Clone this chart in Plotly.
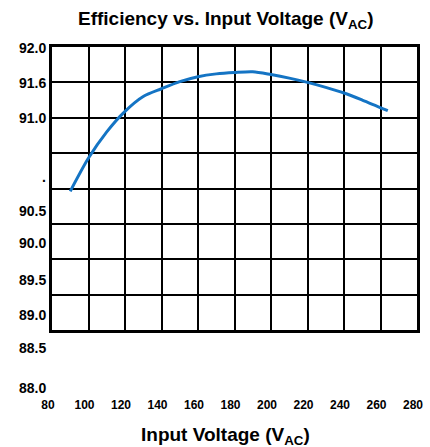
import plotly.graph_objects as go

# ---- data ----
voltage = [90, 100, 110, 120, 130, 140, 150, 160, 170, 180, 190, 200, 210, 220, 230, 240, 250, 264]
efficiency = [89.96, 90.43, 90.80, 91.09, 91.30, 91.41, 91.51, 91.58, 91.62, 91.64, 91.65, 91.61,
              91.56, 91.50, 91.43, 91.35, 91.25, 91.10]

x_tick_vals = [80, 100, 120, 140, 160, 180, 200, 220, 240, 260, 280]
x_tick_text = ["80", "100", "120", "140", "160", "180", "200", "220", "240", "260", "280"]

y_label_text = ["92.0", "91.6", "91.0", ".", "90.5", "90.0", "89.5", "89.0", "88.5", "88.0"]
# where each y label sits (in axis units; labels in the reference are not on the grid)
y_label_pos = [91.99, 91.49, 91.00, 90.16, 89.68, 89.23, 88.71, 88.21, 87.75, 87.18]

X_RANGE = [80, 280]
Y_RANGE = [88.0, 92.0]

FONT = "Arial, 'Liberation Sans', sans-serif"

fig = go.Figure()
fig.add_trace(go.Scatter(
    x=voltage, y=efficiency, mode="lines",
    line=dict(color="#1474C4", width=3, shape="spline", smoothing=0.8),
    showlegend=False, hoverinfo="x+y",
))

annotations = []
for txt, pos in zip(y_label_text, y_label_pos):
    frac = (pos - Y_RANGE[0]) / (Y_RANGE[1] - Y_RANGE[0])
    annotations.append(dict(
        text=f"<b>{txt}</b>", xref="paper", yref="paper", x=0, y=frac,
        xanchor="right", yanchor="middle", xshift=-4, showarrow=False,
        font=dict(family=FONT, size=14, color="black"),
    ))

# x-axis title (placed slightly left of the plot centre, as in the reference)
annotations.append(dict(
    text="<b>Input Voltage (V<sub>AC</sub>)</b>", xref="paper", yref="paper",
    x=0.474, y=-0.375, xanchor="center", yanchor="middle", showarrow=False,
    font=dict(family=FONT, size=19, color="black"),
))

fig.update_layout(
    width=430, height=447,
    margin=dict(l=52, r=13, t=47, b=117),
    paper_bgcolor="white", plot_bgcolor="white",
    title=dict(
        text="<b>Efficiency vs. Input Voltage (V<sub>AC</sub>)</b>",
        x=0.525, xref="container", xanchor="center",
        y=0.958, yref="container", yanchor="middle",
        font=dict(family=FONT, size=19, color="black"),
    ),
    xaxis=dict(
        range=X_RANGE, tickmode="array", tickvals=x_tick_vals,
        ticktext=[f"<b>{t}</b>" for t in x_tick_text],
        showgrid=True, gridcolor="black", gridwidth=2,
        showline=True, linecolor="black", linewidth=2.5, mirror=True,
        ticks="", ticklabelstandoff=62, ticklabelshift=-4,
        tickfont=dict(family=FONT, size=12, color="black"),
        zeroline=False, fixedrange=True, automargin=False,
    ),
    yaxis=dict(
        range=Y_RANGE, dtick=0.5, showticklabels=False,
        showgrid=True, gridcolor="black", gridwidth=2,
        showline=True, linecolor="black", linewidth=2.5, mirror=True,
        ticks="", zeroline=False, fixedrange=True, automargin=False,
    ),
    annotations=annotations,
)

fig.write_html(
    "out.html",
    config={"displayModeBar": False},
    post_script="document.body.style.margin='0';document.body.style.overflow='hidden';",
)
